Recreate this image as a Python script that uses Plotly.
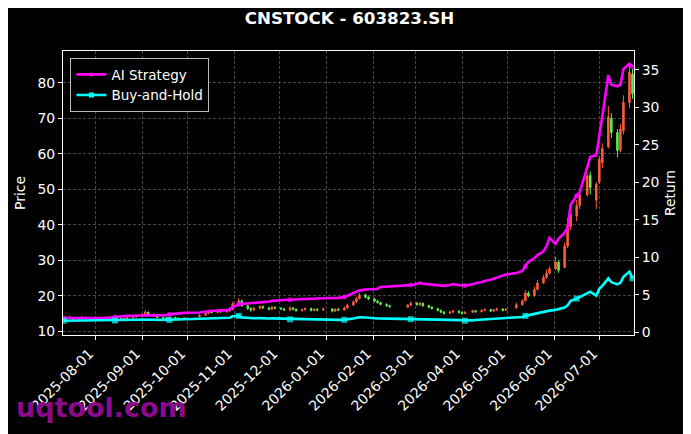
import pandas as pd
import plotly.graph_objects as go

# trading calendar (SSE holidays removed), one bar every second session
holidays = [
    "2025-10-01", "2025-10-02", "2025-10-03", "2025-10-06", "2025-10-07", "2025-10-08",
    "2026-01-01", "2026-01-02",
    "2026-02-16", "2026-02-17", "2026-02-18", "2026-02-19", "2026-02-20", "2026-02-23",
    "2026-04-06", "2026-05-01", "2026-05-04", "2026-05-05", "2026-06-19",
]

price_open = [
    13.4, 13.6, 13.8, 13.5, 13.6, 13.9, 13.6, 13.5,
    13.7, 13.6, 13.4, 13.5, 13.7, 13.5, 13.4, 13.6, 13.8, 14.0,
    14.3, 14.6, 15.4, 14.8, 14.3, 13.9, 13.8, 13.6, 13.9, 13.7, 13.5,
    14.1, 14.5, 15.0, 15.6, 15.3, 15.9, 15.5, 15.8, 16.2,
    17.8, 18.6, 17.2, 16.4, 16.0, 16.5, 17.0, 16.6, 16.2, 16.8,
    16.5, 16.3, 16.0, 16.6, 16.2, 15.8, 16.1, 16.4, 15.9, 16.2, 16.0,
    16.3, 15.7, 16.2, 16.0, 16.6, 17.4, 18.3, 19.2, 20.2, 19.6,
    19.1, 18.5, 18.1, 17.6, 17.2, 16.8, 17.4,
    17.9, 17.5, 17.9, 17.2, 16.8, 16.4, 15.9, 15.4, 15.1, 15.4, 15.7,
    15.3, 15.0, 15.4, 15.8, 15.5, 15.9, 16.1, 15.7, 16.0, 16.3, 15.9,
    16.6, 17.5, 18.6, 20.8, 20.0, 21.8, 23.6, 25.2, 26.4,
    27.6, 29.5, 28.0, 34.0, 39.5, 42.5, 45.5, 48.5, 54.0, 47.0,
    52.0, 57.5, 62.0, 70.0, 66.0, 61.0, 66.5, 74.5, 82.5,
]
price_high = [
    14.0, 14.5, 14.0, 13.9, 14.4, 14.1, 13.9, 14.0,
    13.9, 13.8, 13.7, 14.0, 13.9, 13.7, 13.9, 14.1, 14.4, 14.8,
    15.1, 16.0, 15.6, 15.0, 14.5, 14.2, 14.0, 14.2, 14.1, 13.9, 14.0,
    14.8, 15.4, 16.0, 15.9, 16.3, 16.1, 16.2, 16.8, 18.4,
    19.4, 18.9, 17.6, 16.8, 16.9, 17.4, 17.3, 16.9, 17.2, 17.0,
    16.8, 16.6, 17.0, 16.9, 16.5, 16.4, 16.8, 16.7, 16.5, 16.5, 16.7,
    16.5, 16.5, 16.6, 17.0, 17.8, 18.7, 19.7, 20.8, 20.6, 19.9,
    19.4, 18.8, 18.3, 17.9, 17.5, 17.7, 18.4,
    18.3, 18.2, 18.1, 17.5, 17.1, 16.6, 16.1, 15.7, 15.7, 16.0, 15.9,
    15.6, 15.7, 16.1, 16.0, 16.2, 16.5, 16.3, 16.3, 16.7, 16.5, 16.6,
    18.1, 19.0, 21.6, 21.3, 22.5, 24.5, 25.9, 27.4, 28.3,
    31.0, 30.0, 35.0, 42.0, 44.0, 47.0, 49.5, 54.6, 55.0, 52.0,
    59.5, 63.0, 73.5, 71.5, 67.0, 68.5, 76.5, 85.4, 84.0,
]
price_low = [
    13.2, 13.4, 13.3, 13.3, 13.4, 13.4, 13.2, 13.3,
    13.4, 13.2, 13.2, 13.3, 13.3, 13.1, 13.2, 13.4, 13.6, 13.8,
    14.0, 14.3, 14.5, 14.0, 13.7, 13.5, 13.3, 13.4, 13.5, 13.2, 13.3,
    13.9, 14.3, 14.8, 15.0, 15.1, 15.2, 15.3, 15.5, 15.9,
    17.5, 16.9, 16.0, 15.5, 15.8, 16.2, 16.3, 15.9, 16.0, 16.2,
    16.0, 15.7, 15.8, 15.9, 15.5, 15.6, 15.9, 15.6, 15.7, 15.7, 15.8,
    15.3, 15.5, 15.7, 15.8, 16.3, 17.1, 18.0, 18.9, 19.3, 18.8,
    18.2, 17.8, 17.3, 16.9, 16.6, 16.5, 17.1,
    17.2, 17.2, 16.9, 16.5, 16.1, 15.6, 15.1, 14.7, 14.9, 15.2, 15.0,
    14.7, 14.8, 15.2, 15.2, 15.3, 15.7, 15.4, 15.5, 15.8, 15.6, 15.7,
    16.4, 17.2, 18.4, 19.6, 19.8, 21.5, 23.3, 24.8, 26.0,
    27.2, 26.5, 27.8, 33.5, 38.5, 41.0, 44.5, 48.0, 48.5, 44.5,
    51.5, 56.0, 61.5, 64.5, 59.0, 60.5, 65.5, 73.0, 75.5,
]
price_close = [
    13.6, 13.8, 13.5, 13.7, 13.9, 13.6, 13.5, 13.7,
    13.6, 13.4, 13.5, 13.7, 13.5, 13.4, 13.6, 13.8, 14.0, 14.3,
    14.6, 15.4, 14.8, 14.3, 13.9, 13.8, 13.6, 13.9, 13.7, 13.5, 13.8,
    14.5, 15.0, 15.6, 15.3, 15.9, 15.5, 15.8, 16.2, 17.8,
    18.6, 17.2, 16.4, 16.0, 16.5, 17.0, 16.6, 16.2, 16.8, 16.5,
    16.3, 16.0, 16.6, 16.2, 15.8, 16.1, 16.4, 15.9, 16.2, 16.0, 16.3,
    15.7, 16.2, 16.0, 16.6, 17.4, 18.3, 19.2, 20.2, 19.6, 19.1,
    18.5, 18.1, 17.6, 17.2, 16.9, 17.4, 17.9,
    17.5, 17.9, 17.2, 16.8, 16.4, 15.9, 15.4, 15.1, 15.4, 15.7, 15.3,
    15.0, 15.4, 15.8, 15.5, 15.9, 16.1, 15.7, 16.0, 16.3, 15.9, 16.2,
    17.5, 18.6, 20.8, 20.0, 21.8, 23.6, 25.2, 26.4, 27.6,
    29.5, 27.2, 34.0, 40.0, 43.0, 45.5, 48.5, 53.8, 50.5, 51.5,
    58.5, 61.5, 70.5, 66.0, 61.0, 67.0, 74.5, 83.0, 77.0,
]

ai_return = [
    1.90, 1.90, 1.89, 1.90, 1.90, 1.89, 1.90, 1.90,
    1.90, 1.91, 1.95, 2.00, 2.05, 2.10, 2.15, 2.20, 2.22, 2.25,
    2.28, 2.30, 2.28, 2.27, 2.26, 2.25, 2.30, 2.40, 2.48, 2.55, 2.60,
    2.65, 2.80, 2.85, 2.88, 2.90, 2.95, 2.95, 3.00, 3.40,
    3.75, 3.80, 3.85, 3.90, 3.95, 4.00, 4.05, 4.10, 4.20, 4.25,
    4.30, 4.32, 4.35, 4.38, 4.40, 4.42, 4.45, 4.47, 4.50, 4.52, 4.55,
    4.55, 4.58, 4.60, 4.70, 4.90, 5.20, 5.40, 5.60, 5.70, 5.75,
    5.75, 5.80, 6.05, 6.10, 6.15, 6.25, 6.30,
    6.45, 6.60, 6.50, 6.40, 6.35, 6.30, 6.25, 6.20, 6.30, 6.45, 6.30,
    6.30, 6.25, 6.40, 6.55, 6.70, 6.85, 7.00, 7.15, 7.30, 7.50, 7.70,
    7.90, 8.20, 8.80, 9.40, 9.90, 10.30, 10.80, 11.50, 12.60,
    11.80, 12.50, 13.30, 13.90, 17.00, 18.20, 18.70, 22.00, 23.40, 23.60,
    26.00, 28.80, 34.30, 33.00, 32.80, 33.00, 35.10, 35.80, 35.40,
]
bh_return = [
    1.55, 1.56, 1.54, 1.55, 1.56, 1.55, 1.54, 1.55,
    1.54, 1.53, 1.55, 1.56, 1.58, 1.60, 1.62, 1.64, 1.66, 1.68,
    1.70, 1.72, 1.70, 1.68, 1.66, 1.65, 1.64, 1.66, 1.68, 1.72, 1.75,
    1.80, 1.85, 1.88, 1.86, 1.88, 1.90, 1.92, 1.95, 2.15,
    2.20, 2.00, 1.90, 1.85, 1.88, 1.90, 1.86, 1.84, 1.86, 1.85,
    1.80, 1.76, 1.74, 1.72, 1.70, 1.70, 1.68, 1.68, 1.67, 1.67, 1.66,
    1.66, 1.65, 1.66, 1.68, 1.72, 1.85, 1.95, 2.00, 1.98, 1.92,
    1.88, 1.86, 1.85, 1.84, 1.82, 1.80, 1.76,
    1.74, 1.72, 1.70, 1.68, 1.67, 1.66, 1.65, 1.64, 1.64, 1.63, 1.62,
    1.58, 1.55, 1.60, 1.66, 1.70, 1.74, 1.78, 1.82, 1.86, 1.88, 1.92,
    1.98, 2.05, 2.20, 2.30, 2.45, 2.60, 2.70, 2.80, 2.90,
    3.00, 3.10, 3.30, 3.60, 4.20, 4.50, 4.70, 5.10, 5.40, 4.90,
    5.80, 6.20, 7.20, 6.70, 6.40, 6.60, 7.40, 8.10, 7.20,
]

days = pd.bdate_range("2025-07-11", "2026-07-24")
days = days[~days.isin(pd.to_datetime(holidays))]
dates = days[::2][: len(price_close)]
n = len(dates)

# a marker every 25 sessions, like markevery
mark_idx = {round(j * 12.5) for j in range(11)}

font = "DejaVu Sans"
fs = 13.9

# the page body has an 8px margin, so the figure is 8px smaller each way
fig = go.Figure()

fig.add_trace(
    go.Candlestick(
        x=dates,
        open=price_open[:n],
        high=price_high[:n],
        low=price_low[:n],
        close=price_close[:n],
        increasing=dict(line=dict(color="#ff5a3c", width=1), fillcolor="#ff5a3c"),
        decreasing=dict(line=dict(color="#5cf04c", width=1), fillcolor="#5cf04c"),
        whiskerwidth=0,
        showlegend=False,
        hoverinfo="skip",
    )
)

series = [
    ("AI Strategy", ai_return, "#ff00ff", "circle", 5, 4),
    ("Buy-and-Hold", bh_return, "#00ffff", "square", 6, 5),
]

for name, values, color, symbol, mark_size, legend_size in series:
    sizes = [mark_size if i in mark_idx else 0 for i in range(n)]
    fig.add_trace(
        go.Scatter(
            x=dates,
            y=values[:n],
            mode="lines+markers",
            name=name,
            yaxis="y2",
            showlegend=False,
            line=dict(color=color, width=2.6),
            marker=dict(symbol=symbol, size=sizes, color=color, line=dict(width=0)),
        )
    )
    # legend entry only
    fig.add_trace(
        go.Scatter(
            x=[None],
            y=[None],
            mode="lines+markers",
            name=name,
            yaxis="y2",
            line=dict(color=color, width=2.6),
            marker=dict(symbol=symbol, size=legend_size, color=color, line=dict(width=0)),
        )
    )

tickfont = dict(family=font, size=fs, color="white")
grid = dict(showgrid=True, gridcolor="#474747", griddash="3px,2px", gridwidth=0.6)

fig.update_layout(
    width=683,
    height=426,
    margin=dict(l=50, r=57, t=43, b=99),
    paper_bgcolor="black",
    plot_bgcolor="black",
    font=dict(family=font, color="white", size=fs),
    title=dict(
        text="CNSTOCK - 603823.SH",
        x=0.5,
        xref="container",
        y=1 - 10 / 426,
        yref="container",
        xanchor="center",
        yanchor="middle",
        font=dict(family=font, size=16.7, color="white", weight="bold"),
    ),
    xaxis=dict(
        type="date",
        range=[dates[0] - pd.Timedelta(hours=12), dates[-1] + pd.Timedelta(days=1)],
        rangeslider=dict(visible=False),
        tick0="2025-08-01",
        dtick="M1",
        tickformat="%Y-%m-%d",
        tickangle=-45,
        ticklabelshift=-6,
        tickfont=tickfont,
        ticks="outside",
        ticklen=4,
        tickcolor="white",
        showline=True,
        linecolor="white",
        linewidth=1,
        mirror=True,
        zeroline=False,
        **grid,
    ),
    yaxis=dict(
        title=dict(text="Price", font=dict(family=font, size=fs, color="white"), standoff=8),
        range=[8.96, 89],
        dtick=10,
        tickfont=tickfont,
        ticks="outside",
        ticklen=4,
        tickcolor="white",
        showline=True,
        linecolor="white",
        linewidth=1,
        zeroline=False,
        **grid,
    ),
    yaxis2=dict(
        title=dict(text="Return", font=dict(family=font, size=fs, color="white"), standoff=6),
        overlaying="y",
        side="right",
        range=[-0.35, 37.5],
        dtick=5,
        tickfont=tickfont,
        ticks="outside",
        ticklen=4,
        tickcolor="white",
        showline=True,
        linecolor="white",
        linewidth=1,
        showgrid=False,
        zeroline=False,
    ),
    legend=dict(
        x=0.013,
        y=0.975,
        xanchor="left",
        yanchor="top",
        bgcolor="black",
        bordercolor="#bbbbbb",
        borderwidth=1,
        font=dict(family=font, size=13.5, color="white"),
        itemwidth=30,
        tracegroupgap=0,
    ),
)

fig.add_annotation(
    text="uqtool.com",
    xref="paper",
    yref="paper",
    x=-0.085,
    y=-0.257,
    xanchor="left",
    yanchor="middle",
    showarrow=False,
    font=dict(family=font, size=27, color="#8c0a8c", weight="bold"),
)

fig.write_html("out.html")
